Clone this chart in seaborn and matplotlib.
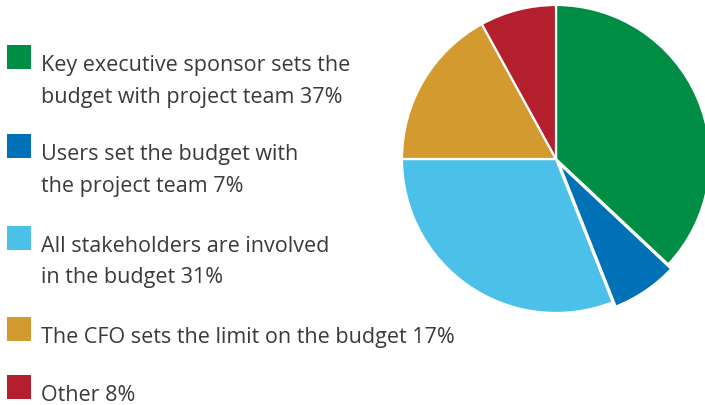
import matplotlib
matplotlib.use("Agg")
import matplotlib.pyplot as plt
import seaborn as sns

# Budget-setting responsibility shares (percent)
categories = [
    "Key executive sponsor sets the\nbudget with project team",
    "Users set the budget with\nthe project team",
    "All stakeholders are involved\nin the budget",
    "The CFO sets the limit on the budget",
    "Other",
]
shares = [37, 7, 31, 17, 8]
colors = ["#008D44", "#0071B6", "#4BC1E9", "#D39A2F", "#B31F2C"]

sns.set_theme(style="white")
plt.rcParams["font.family"] = ["Open Sans", "DejaVu Sans"]

W, H = 705, 406
fig = plt.figure(figsize=(W / 100, H / 100), dpi=100)
fig.patch.set_facecolor("white")

# Pie placed by pixel centre and radius
cx, cy, r = 556, 160, 154
ax = fig.add_axes([(cx - r) / W, (H - cy - r) / H, 2 * r / W, 2 * r / H])
explode = [0, 0.035, 0, 0, 0]
ax.pie(
    shares,
    colors=colors,
    startangle=90,
    counterclock=False,
    explode=explode,
    radius=1,
    wedgeprops=dict(edgecolor="white", linewidth=1.6),
)
ax.set_xlim(-1, 1)
ax.set_ylim(-1, 1)
ax.set_aspect("auto")
ax.axis("off")

# Legend: coloured squares with wrapped labels and percentages
text_color = "#3a3a3a"
baselines = [(71, 103), (160, 192), (252, 283), (343,), (401,)]
for cat, val, col, bl in zip(categories, shares, colors, baselines):
    lines = cat.split("\n")
    lines[-1] = f"{lines[-1]} {val}%"
    top = bl[0] - 25
    fig.patches.append(
        plt.Rectangle((7 / W, 1 - (top + 24) / H), 24 / W, 24 / H,
                      transform=fig.transFigure, facecolor=col, edgecolor="none")
    )
    for line, y in zip(lines, bl):
        fig.text(41 / W, 1 - y / H, line, fontsize=15.5, color=text_color,
                 ha="left", va="baseline")

fig.savefig("out.png", dpi=100)
